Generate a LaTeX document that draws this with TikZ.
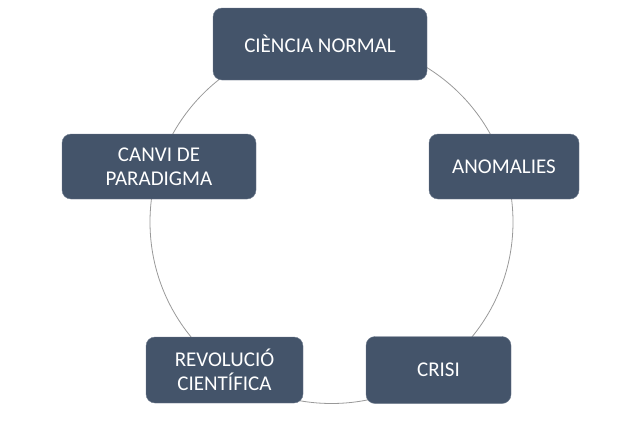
\documentclass[tikz,border=0pt]{standalone}
\usepackage{fontspec}
\setmainfont{Carlito}
\usetikzlibrary{positioning}

\begin{document}
\begin{tikzpicture}[x=1pt,y=-1pt,
        fase/.style={draw=vora,fill=fons,rounded corners=9pt,text=white,
          align=center,inner sep=0pt,minimum height=65pt,
          font=\fontsize{21}{24}\selectfont}]
        \definecolor{fons}{HTML}{44546A}
        \definecolor{vora}{HTML}{6E7B8D}
        \colorlet{cercle}{black!40}

        \useasboundingbox (0,0) rectangle (640,426);

        \coordinate (centre) at (331.5,222);
        \draw[cercle,line width=0.8pt] (centre) circle[radius=181.5pt];

        \node[fase,minimum width=214pt,minimum height=72pt] (normal) at (320,44) {CIÈNCIA NORMAL};
        \node[fase,minimum width=150pt] (anomalies) at (504,166.5) {ANOMALIES};
        \node[fase,minimum width=145pt,minimum height=67pt] (crisi) at (438.5,370) {CRISI};
        \node[fase,minimum width=157pt,minimum height=66pt] (revolucio) at (224.5,370) {REVOLUCIÓ\\CIENTÍFICA};
        \node[fase,minimum width=194pt] (canvi) at (159,166.5) {CANVI DE\\PARADIGMA};
      \end{tikzpicture}
\end{document}
